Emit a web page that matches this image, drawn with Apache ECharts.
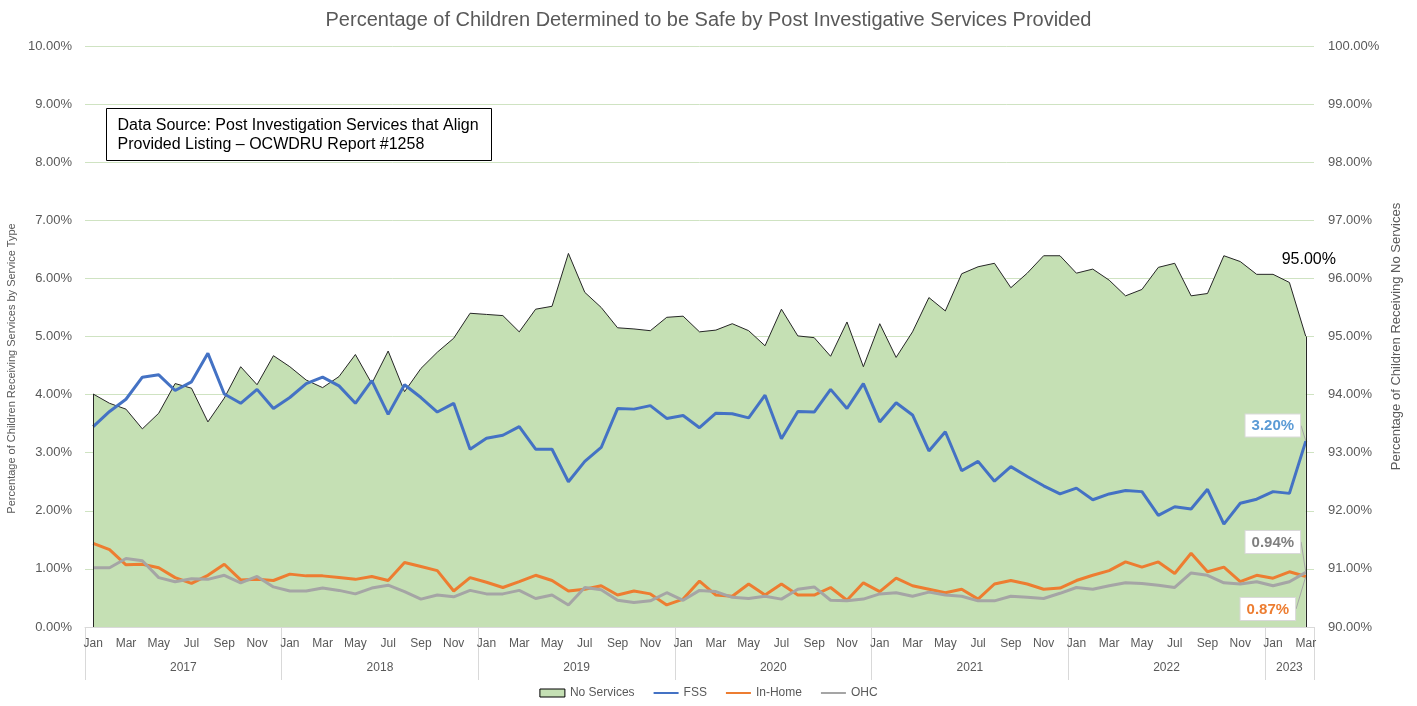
<!DOCTYPE html>
<html>
<head>
<meta charset="utf-8">
<script src="https://cdn.jsdelivr.net/npm/echarts@6/dist/echarts.min.js"></script>
<style>
  html, body { margin: 0; padding: 0; background: #fff; }
  #echart-div { width: 1417px; height: 706px; }
</style>
</head>
<body>
<div id="echart-div"></div>
<script>
const monthNames = ['Jan','Feb','Mar','Apr','May','Jun','Jul','Aug','Sep','Oct','Nov','Dec'];
const years = [2017, 2018, 2019, 2020, 2021, 2022, 2023];
const monthsIn2023 = 3;

// right axis (No Services)
const noServices = [
  94.01, 93.85, 93.75, 93.41, 93.68, 94.19, 94.11, 93.53, 93.94, 94.48, 94.17, 94.67,
  94.48, 94.25, 94.12, 94.31, 94.69, 94.19, 94.75, 94.05, 94.45, 94.73, 94.97, 95.40,
  95.38, 95.36, 95.08, 95.47, 95.52, 96.43, 95.76, 95.50, 95.15, 95.13, 95.10, 95.33,
  95.35, 95.08, 95.11, 95.22, 95.10, 94.84, 95.47, 95.01, 94.98, 94.66, 95.25, 94.48,
  95.22, 94.64, 95.08, 95.67, 95.44, 96.08, 96.20, 96.26, 95.84, 96.09, 96.39, 96.39,
  96.09, 96.16, 95.97, 95.70, 95.81, 96.19, 96.26, 95.70, 95.74, 96.39, 96.29, 96.07,
  96.07, 95.93, 95.00
];
// left axis
const fss = [
  3.45, 3.71, 3.92, 4.30, 4.34, 4.07, 4.22, 4.71, 4.01, 3.85, 4.09, 3.76,
  3.95, 4.19, 4.30, 4.15, 3.85, 4.24, 3.66, 4.17, 3.95, 3.70, 3.85, 3.06,
  3.25, 3.30, 3.45, 3.06, 3.06, 2.50, 2.85, 3.09, 3.76, 3.75, 3.81, 3.59,
  3.64, 3.43, 3.68, 3.67, 3.60, 3.99, 3.24, 3.71, 3.70, 4.09, 3.76, 4.19,
  3.53, 3.86, 3.65, 3.03, 3.36, 2.69, 2.85, 2.51, 2.76, 2.59, 2.43, 2.29,
  2.39, 2.19, 2.29, 2.35, 2.33, 1.92, 2.07, 2.03, 2.37, 1.77, 2.13, 2.20,
  2.33, 2.30, 3.20
];
const inHome = [
  1.44, 1.33, 1.07, 1.08, 1.02, 0.85, 0.75, 0.89, 1.08, 0.81, 0.82, 0.80,
  0.91, 0.88, 0.88, 0.85, 0.82, 0.87, 0.80, 1.11, 1.04, 0.97, 0.62, 0.85,
  0.77, 0.68, 0.78, 0.89, 0.80, 0.62, 0.65, 0.71, 0.55, 0.62, 0.57, 0.38,
  0.48, 0.79, 0.55, 0.53, 0.74, 0.55, 0.74, 0.55, 0.55, 0.68, 0.46, 0.76,
  0.61, 0.84, 0.71, 0.65, 0.59, 0.65, 0.48, 0.74, 0.80, 0.74, 0.65, 0.67,
  0.80, 0.89, 0.97, 1.12, 1.03, 1.12, 0.92, 1.27, 0.95, 1.03, 0.78, 0.89,
  0.84, 0.95, 0.87
];
const ohc = [
  1.02, 1.02, 1.18, 1.14, 0.85, 0.78, 0.83, 0.82, 0.89, 0.76, 0.87, 0.69,
  0.62, 0.62, 0.67, 0.63, 0.57, 0.67, 0.72, 0.61, 0.48, 0.55, 0.52, 0.63,
  0.57, 0.57, 0.63, 0.49, 0.55, 0.38, 0.68, 0.64, 0.46, 0.42, 0.45, 0.59,
  0.46, 0.63, 0.61, 0.51, 0.49, 0.53, 0.48, 0.65, 0.69, 0.46, 0.45, 0.48,
  0.57, 0.59, 0.53, 0.60, 0.55, 0.53, 0.45, 0.45, 0.53, 0.51, 0.49, 0.58,
  0.68, 0.65, 0.71, 0.76, 0.75, 0.72, 0.68, 0.93, 0.89, 0.76, 0.74, 0.78,
  0.71, 0.78, 0.94
];

(()=>{
  let myChart = null;
  const FONT = 'Liberation Sans';
  const GREY = '#595959';

  const F = {
    categories(){
      const out = [];
      years.forEach((y)=>{
        const n = y === 2023 ? monthsIn2023 : 12;
        for(let m = 0; m < n; m++) out.push(monthNames[m] + ' ' + y);
      });
      return out;
    },

    // year band edges, in month units, for the second x axis
    yearEdges(){
      const edges = [0];
      years.forEach((y)=>{
        edges.push(edges[edges.length - 1] + (y === 2023 ? monthsIn2023 : 12));
      });
      return edges;
    },

    // only the last point gets a (tiny) symbol so it can carry a label
    lastLabel(arr, label){
      return arr.map((v, i) => i === arr.length - 1
        ? {value: v, symbol: 'circle', symbolSize: 1, label}
        : v);
    },

    boxLabel(color){
      return {
        show: true,
        position: 'top',
        distance: 0,
        formatter: (p) => p.value.toFixed(2) + '%',
        fontFamily: FONT,
        fontSize: 15,
        fontWeight: 'bold',
        color,
        backgroundColor: '#fff',
        borderColor: '#d9d9d9',
        borderWidth: 1,
        padding: [4, 6, 3, 6]
      };
    },

    getOption(){
      const cats = F.categories();
      const edges = F.yearEdges();
      const centres = years.map((y, i) => (edges[i] + edges[i + 1]) / 2);
      const last = cats.length - 1;
      const pct = (v) => v.toFixed(2) + '%';

      const lineSeries = (name, data, color, label, layout) => ({
        name,
        type: 'line',
        yAxisIndex: 0,
        data: F.lastLabel(data, label),
        symbol: 'none',
        showSymbol: true,
        lineStyle: {color, width: 3},
        itemStyle: {color},
        label: {show: false},
        labelLine: {show: true, smooth: false, length2: 0, lineStyle: {color: '#a6a6a6', width: 1}},
        labelLayout: layout,
        z: 3
      });

      return {
        backgroundColor: '#fff',
        animation: false,
        textStyle: {fontFamily: FONT},
        title: {
          text: 'Percentage of Children Determined to be Safe by Post Investigative Services Provided',
          left: 'center',
          top: 5,
          textStyle: {fontFamily: FONT, fontSize: 20, fontWeight: 'normal', color: GREY}
        },
        grid: {left: 85, right: 103, top: 46, bottom: 79, outerBoundsMode: 'none'},
        legend: {
          bottom: 2,
          left: 'center',
          itemWidth: 25,
          itemHeight: 8,
          itemGap: 18,
          textStyle: {fontFamily: FONT, fontSize: 12, color: GREY},
          data: [
            {name: 'No Services', icon: 'rect', itemStyle: {color: '#c5e0b4', borderColor: '#000', borderWidth: 1}},
            {name: 'FSS', itemStyle: {opacity: 0}},
            {name: 'In-Home', itemStyle: {opacity: 0}},
            {name: 'OHC', itemStyle: {opacity: 0}}
          ]
        },
        xAxis: [
          {
            type: 'category',
            data: cats,
            boundaryGap: true,
            axisLine: {show: true, lineStyle: {color: '#d9d9d9'}},
            axisTick: {show: false},
            axisLabel: {
              interval: 1,
              margin: 11,
              fontFamily: FONT,
              fontSize: 12,
              color: GREY,
              formatter: (v) => v.split(' ')[0]
            },
            splitLine: {show: false}
          },
          {
            type: 'value',
            min: 0,
            max: edges[edges.length - 1],
            position: 'bottom',
            axisLine: {show: false},
            splitLine: {show: false},
            axisTick: {
              show: true,
              customValues: edges,
              length: 53,
              lineStyle: {color: '#d9d9d9'}
            },
            axisLabel: {
              customValues: centres,
              margin: 35,
              fontFamily: FONT,
              fontSize: 12,
              color: GREY,
              formatter: (v) => String(years[centres.indexOf(v)])
            }
          }
        ],
        yAxis: [
          {
            type: 'value',
            min: 0,
            max: 10,
            interval: 1,
            name: 'Percentage of Children Receiving Services by Service Type',
            nameLocation: 'middle',
            nameRotate: 90,
            nameGap: 60,
            nameTextStyle: {fontFamily: FONT, fontSize: 11, color: GREY, padding: [0, 64, 0, 0]},
            axisLine: {show: false},
            axisTick: {show: false},
            axisLabel: {margin: 13, fontFamily: FONT, fontSize: 13, color: GREY, formatter: pct},
            splitLine: {show: true, lineStyle: {color: '#cfe3c2', width: 1}}
          },
          {
            type: 'value',
            min: 90,
            max: 100,
            interval: 1,
            position: 'right',
            name: 'Percentage of Children Receiving No Services',
            nameLocation: 'middle',
            nameRotate: 90,
            nameGap: 76,
            nameTextStyle: {fontFamily: FONT, fontSize: 13, color: GREY},
            axisLine: {show: false},
            axisTick: {show: false},
            axisLabel: {margin: 14, fontFamily: FONT, fontSize: 13, color: GREY, formatter: pct},
            splitLine: {show: false}
          }
        ],
        series: [
          {
            name: 'No Services',
            type: 'line',
            yAxisIndex: 1,
            data: F.lastLabel(noServices, {
              show: true,
              position: 'top',
              distance: 0,
              formatter: (p) => p.value.toFixed(2) + '%',
              fontFamily: FONT,
              fontSize: 16,
              color: '#000'
            }),
            symbol: 'none',
            showSymbol: true,
            lineStyle: {color: '#262626', width: 1},
            itemStyle: {color: '#c5e0b4'},
            areaStyle: {color: '#c5e0b4', opacity: 1, origin: 'start'},
            label: {show: false},
            labelLayout: {dx: 3, dy: -68},
            markLine: {
              silent: true,
              symbol: 'none',
              label: {show: false},
              lineStyle: {color: '#262626', width: 1, type: 'solid'},
              data: [
                [{coord: [0, 90]}, {coord: [0, noServices[0]]}],
                [{coord: [last, 90]}, {coord: [last, noServices[last]]}]
              ]
            },
            z: 2
          },
          lineSeries('FSS', fss, '#4472c4', F.boxLabel('#5b9bd5'), {dx: -33, dy: -4}),
          lineSeries('In-Home', inHome, '#ed7d31',
            Object.assign(F.boxLabel('#ed7d31'), {position: 'bottom'}), {dx: -38, dy: 21}),
          lineSeries('OHC', ohc, '#a5a5a5', F.boxLabel('#7f7f7f'), {dx: -33, dy: -19})
        ],
        graphic: [
          {
            type: 'group',
            left: 106,
            top: 108,
            children: [
              {type: 'rect', shape: {x: 0, y: 0, width: 385, height: 52},
                style: {fill: '#fff', stroke: '#000', lineWidth: 1}},
              {type: 'text', x: 11, y: 8,
                style: {
                  text: 'Data Source: Post Investigation Services that Align\nProvided Listing \u2013 OCWDRU Report #1258',
                  font: '16px "Liberation Sans"',
                  fill: '#000',
                  lineHeight: 19
                }}
            ]
          }
        ]
      };
    },

    init(){
      myChart = echarts.init(document.getElementById('echart-div'));
      myChart.setOption(F.getOption());
    }
  };

  F.init();
})();
</script>
</body>
</html>
